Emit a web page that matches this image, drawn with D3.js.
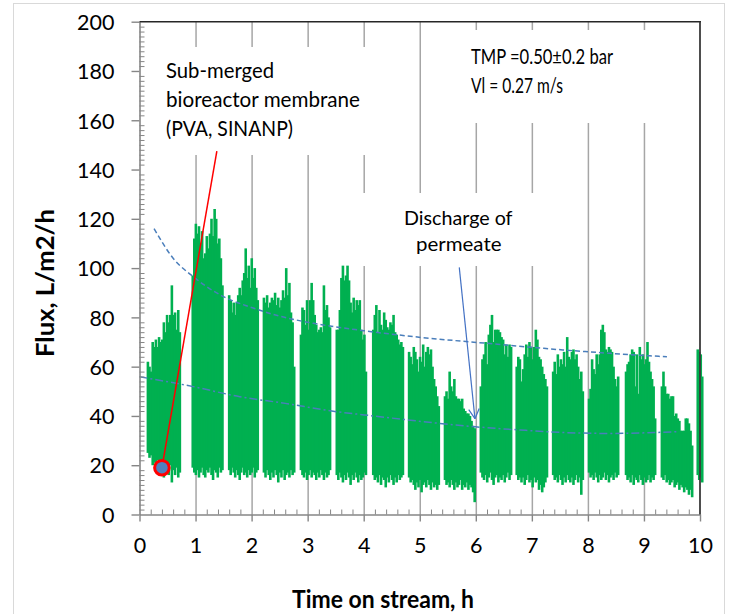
<!DOCTYPE html>
<html><head><meta charset="utf-8">
<script src="https://cdn.jsdelivr.net/npm/d3@7"></script>
<style>
html,body{margin:0;padding:0;background:#fff;}
svg text{font-family:Lato,'Open Sans',sans-serif;fill:#000;}
</style></head><body>
<svg id="chart" width="731" height="614"></svg>
<script>
// ---------- data ----------
const xTickValues = [0,1,2,3,4,5,6,7,8,9,10];
const yTickValues = [0,20,40,60,80,100,120,140,160,180,200];

// start / end time (h) of each filtration burst
const segmentStart = [0.15,0.95,1.60,2.22,2.88,3.52,4.17,4.81,5.45,6.09,6.73,7.38,8.02,8.68,9.32,9.96];
const segmentEnd   = [0.72,1.48,2.11,2.76,3.40,4.04,4.70,5.34,5.98,6.63,7.27,7.91,8.54,9.20,9.86,10.04];

// upper flux peaks (L/m2/h) read across each burst
const fluxPeaks = [
  [62,60,58,70,68,71,68,72,70,71,78,74,81,78,81,93,81,82,75,83,74],
  [97,112,118,114,117,109,115,104,106,113,108,114,120,113,124,120,110,112,104,93],
  [89,87,82,86,81,86,89,92,89,95,98,108,96,101,92,104,96,100,92,87],
  [88,86,89,84,86,88,87,90,85,88,84,87,91,88,100,89,94,82,78,60],
  [73,84,83,77,87,75,87,94,87,81,77,74,75,76,74,93,83,85,80,76],
  [75,75,83,96,101,95,97,101,95,86,82,88,83,87,85,87,75,71,73,58],
  [75,81,85,74,83,77,75,82,79,76,75,78,77,81,74,73,71,69,70,68],
  [66,64,61,68,66,63,58,64,62,69,60,66,68,65,67,60,55,52,48,44],
  [48,50,47,58,52,50,55,48,47,47,46,47,43,42,41,41,40,38,36,35],
  [52,63,65,70,61,73,77,81,70,75,75,75,74,72,71,65,69,64,69,68],
  [60,64,63,54,59,65,69,64,70,68,63,68,75,71,64,63,60,57,55,52],
  [58,62,57,65,60,63,61,66,60,72,64,63,66,67,63,65,60,55,58,50],
  [47,51,63,59,57,65,61,65,75,77,74,67,66,68,67,66,60,55,52,56],
  [58,61,62,65,67,66,52,65,49,68,63,65,61,63,70,62,58,55,52,39],
  [52,58,52,49,49,47,48,48,40,41,39,38,34,34,34,39,39,37,34,28],
  [67,66,65,56]
];
// lower flux troughs (L/m2/h) for the same samples
const fluxTroughs = [
  [25,23,24,20,21,18,22,16,19,20,15,19,18,16,20,13,18,16,19,15,17],
  [19,17,16,18,15,17,19,16,15,18,17,19,16,14,18,17,15,19,17,18],
  [18,16,19,17,15,18,16,14,17,19,16,17,15,18,16,17,19,15,17,18],
  [17,15,18,16,14,17,15,18,16,13,17,15,18,14,16,17,15,18,16,17],
  [18,16,15,17,14,16,18,15,17,16,14,17,15,18,16,14,17,15,16,18],
  [16,14,17,15,13,16,14,17,15,12,16,14,17,15,13,16,14,15,17,16],
  [16,14,15,13,16,12,15,14,11,15,13,16,14,12,15,13,16,14,15,16],
  [15,13,14,12,10,13,11,14,9,12,13,11,14,12,10,13,11,12,10,12],
  [14,12,13,11,14,12,10,13,11,12,14,10,12,11,13,10,12,11,9,5],
  [17,15,14,16,13,15,17,14,12,15,16,13,15,14,16,13,15,17,14,16],
  [16,14,15,13,15,12,14,16,13,14,11,15,13,14,10,12,9,11,13,15],
  [16,14,15,13,16,14,12,15,13,16,14,13,15,12,14,16,13,15,8,14],
  [17,15,16,14,17,15,13,16,14,15,17,14,16,13,15,16,14,17,15,16],
  [16,14,15,13,16,12,15,14,13,16,14,12,15,13,14,16,13,15,14,16],
  [15,14,16,13,14,12,13,14,11,12,13,10,12,11,9,11,10,8,10,7],
  [16,14,15,13]
];

// trend curves [time h, flux]
const upperTrendT = [0.26,0.6,0.96,1.5,2.0,2.5,3.1,4.0,5.05,6.19,7.55,8.4,9.41];
const upperTrendF = [116,104,96.5,88.4,84,80.5,77.6,74.6,71.8,69.5,66.8,65.4,64];
const lowerTrendT = [0.0,0.96,1.79,2.6,3.4,4.29,5.05,5.99,6.79,7.55,8.39,9.58];
const lowerTrendF = [55.9,51.9,47.8,45.1,42.1,39.7,37.7,35.6,34.3,33.3,32.9,33.6];

// annotations
const markerPoint = [0.4, 19];
const calloutTop = [1.38, 147.5];
const arrowFrom = [5.705, 100.3];
const arrowTo = [5.985, 38.9];
const labelSubmerged = ["Sub-merged","bioreactor membrane","(PVA, SINANP)"];
const labelConditions = ["TMP =0.50\u00b10.2 bar","Vl = 0.27 m/s"];
const labelDischarge = ["Discharge of","permeate"];
const xTitle = "Time on stream, h";
const yTitle = "Flux, L/m2/h";

// ---------- drawing ----------
const svg = d3.select("#chart");
const X0 = 139.5, X1 = 700, Y0 = 514.5, Y1 = 21.7;
const x = d3.scaleLinear().domain([0,10]).range([X0,X1]);
const y = d3.scaleLinear().domain([0,200]).range([Y0,Y1]);

// outer chart border
svg.append("rect").attr("x",13.5).attr("y",3.5).attr("width",711).attr("height",700)
  .attr("fill","none").attr("stroke","#d9d9d9").attr("stroke-width",1);

// vertical gridlines
svg.append("g").attr("transform",`translate(0,${Y0})`)
  .call(d3.axisBottom(x).tickValues(xTickValues.slice(1,-1)).tickSize(-(Y0-Y1)).tickFormat(""))
  .call(g=>{g.select(".domain").remove(); g.selectAll("line").attr("stroke","#a6a6a6").attr("stroke-width",1.5);});

// white text boxes covering gridlines
[[150,47,250,108],[445,30,245,93],[340,193,205,73]].forEach(b=>{
  svg.append("rect").attr("x",b[0]).attr("y",b[1]).attr("width",b[2]).attr("height",b[3]).attr("fill","#fff");
});

// flux bursts
const gData = svg.append("g");
segmentStart.forEach((s,k)=>{
  const pk = fluxPeaks[k], tr = fluxTroughs[k], n = pk.length;
  const tt = d3.scaleLinear().domain([0,n-1]).range([s,segmentEnd[k]]);
  gData.selectAll(null).data(pk).enter().append("line")
    .attr("x1",(d,i)=>x(tt(i))).attr("x2",(d,i)=>x(tt(i)))
    .attr("y1",(d,i)=>y(tr[i])).attr("y2",d=>y(d))
    .attr("stroke","#00b050").attr("stroke-width",2.6);
});

// trend curves
const line = d3.line().x(d=>x(d[0])).y(d=>y(d[1])).curve(d3.curveMonotoneX);
svg.append("path").datum(upperTrendT.map((t,i)=>[t,upperTrendF[i]])).attr("d",line)
  .attr("fill","none").attr("stroke","#4a7ebb").attr("stroke-width",1.5).attr("stroke-dasharray","5,3");
svg.append("path").datum(lowerTrendT.map((t,i)=>[t,lowerTrendF[i]])).attr("d",line)
  .attr("fill","none").attr("stroke","#4a7ebb").attr("stroke-width",1.5).attr("stroke-dasharray","8,3,2,3");

// axes
const yAxisG = svg.append("g").attr("transform",`translate(${X0},0)`)
  .call(d3.axisLeft(y).tickValues(yTickValues).tickSize(8).tickSizeOuter(0).tickPadding(17));
yAxisG.select(".domain").attr("stroke","#868686").attr("stroke-width",1.6);
yAxisG.selectAll("line").attr("stroke","#868686").attr("stroke-width",1.4);
yAxisG.selectAll("text").attr("font-size",21.5).attr("font-family","Lato").attr("dy","0.36em");

const yMinor = d3.range(0,201,2).filter(v=>v%20!==0);
svg.append("g").attr("transform",`translate(${X0},0)`)
  .call(d3.axisRight(y).tickValues(yMinor).tickSize(5).tickFormat(""))
  .call(g=>{g.select(".domain").remove(); g.selectAll("line").attr("stroke","#868686").attr("stroke-width",1);});

const xAxisG = svg.append("g").attr("transform",`translate(0,${Y0})`)
  .call(d3.axisBottom(x).tickValues(xTickValues).tickSize(7).tickSizeOuter(0).tickPadding(16));
xAxisG.select(".domain").attr("stroke","#868686").attr("stroke-width",1.6);
xAxisG.selectAll("line").attr("stroke","#868686").attr("stroke-width",1.4);
xAxisG.selectAll("text").attr("font-size",21.5).attr("font-family","Lato").attr("dy","0.71em");

const xMinor = d3.range(0,50).map(i=>i*0.2).filter((v,i)=>i%5!==0);
svg.append("g").attr("transform",`translate(0,${Y0})`)
  .call(d3.axisTop(x).tickValues(xMinor).tickSize(5).tickFormat(""))
  .call(g=>{g.select(".domain").remove(); g.selectAll("line").attr("stroke","#868686").attr("stroke-width",1);});

// top and right frame
svg.append("line").attr("x1",X0).attr("x2",X1+1).attr("y1",Y1).attr("y2",Y1).attr("stroke","#262626").attr("stroke-width",1.6);
svg.append("line").attr("x1",X1).attr("x2",X1).attr("y1",Y1).attr("y2",Y0).attr("stroke","#3a3a3a").attr("stroke-width",1.8);

// axis titles
svg.append("text").attr("x",383).attr("y",608).attr("text-anchor","middle")
  .attr("font-size",25).attr("font-weight","bold")
  .attr("textLength",182).attr("lengthAdjust","spacingAndGlyphs").text(xTitle);
svg.append("text").attr("transform","translate(54,283) rotate(-90)").attr("text-anchor","middle")
  .attr("font-size",25).attr("font-weight","bold")
  .attr("textLength",148).attr("lengthAdjust","spacingAndGlyphs").text(yTitle);

// callout: red line + marker
svg.append("line").attr("x1",x(markerPoint[0])).attr("y1",y(markerPoint[1]))
  .attr("x2",x(calloutTop[0])).attr("y2",y(calloutTop[1])).attr("stroke","#ff0000").attr("stroke-width",1.5);
svg.append("circle").attr("cx",x(markerPoint[0])).attr("cy",y(markerPoint[1])).attr("r",7.3)
  .attr("fill","#4f81bd").attr("stroke","#ff0000").attr("stroke-width",3);

// discharge arrow
const ax0 = x(arrowFrom[0]), ay0 = y(arrowFrom[1]), ax1 = x(arrowTo[0]), ay1 = y(arrowTo[1]);
svg.append("line").attr("x1",ax0).attr("y1",ay0).attr("x2",ax1).attr("y2",ay1)
  .attr("stroke","#4472c4").attr("stroke-width",1.2);
const ang = Math.atan2(ay1-ay0, ax1-ax0);
[0.5,-0.5].forEach(da=>{
  svg.append("line").attr("x1",ax1).attr("y1",ay1)
    .attr("x2",ax1-11*Math.cos(ang+da)).attr("y2",ay1-11*Math.sin(ang+da))
    .attr("stroke","#4472c4").attr("stroke-width",1.2);
});

// annotation texts
const subW = [108,194,127];
labelSubmerged.forEach((t,i)=>{
  svg.append("text").attr("x",166).attr("y",78+i*29.2).attr("font-size",21)
    .attr("textLength",subW[i]).attr("lengthAdjust","spacingAndGlyphs").text(t);
});
const condW = [142,92];
labelConditions.forEach((t,i)=>{
  svg.append("text").attr("x",471).attr("y",64+i*28.5).attr("font-size",22)
    .attr("textLength",condW[i]).attr("lengthAdjust","spacingAndGlyphs").text(t);
});
const disW = [108.5,85.5];
const disX = [404,416];
labelDischarge.forEach((t,i)=>{
  svg.append("text").attr("x",disX[i]).attr("y",225+i*26).attr("font-size",20)
    .attr("textLength",disW[i]).attr("lengthAdjust","spacingAndGlyphs").text(t);
});
</script>
</body></html>
